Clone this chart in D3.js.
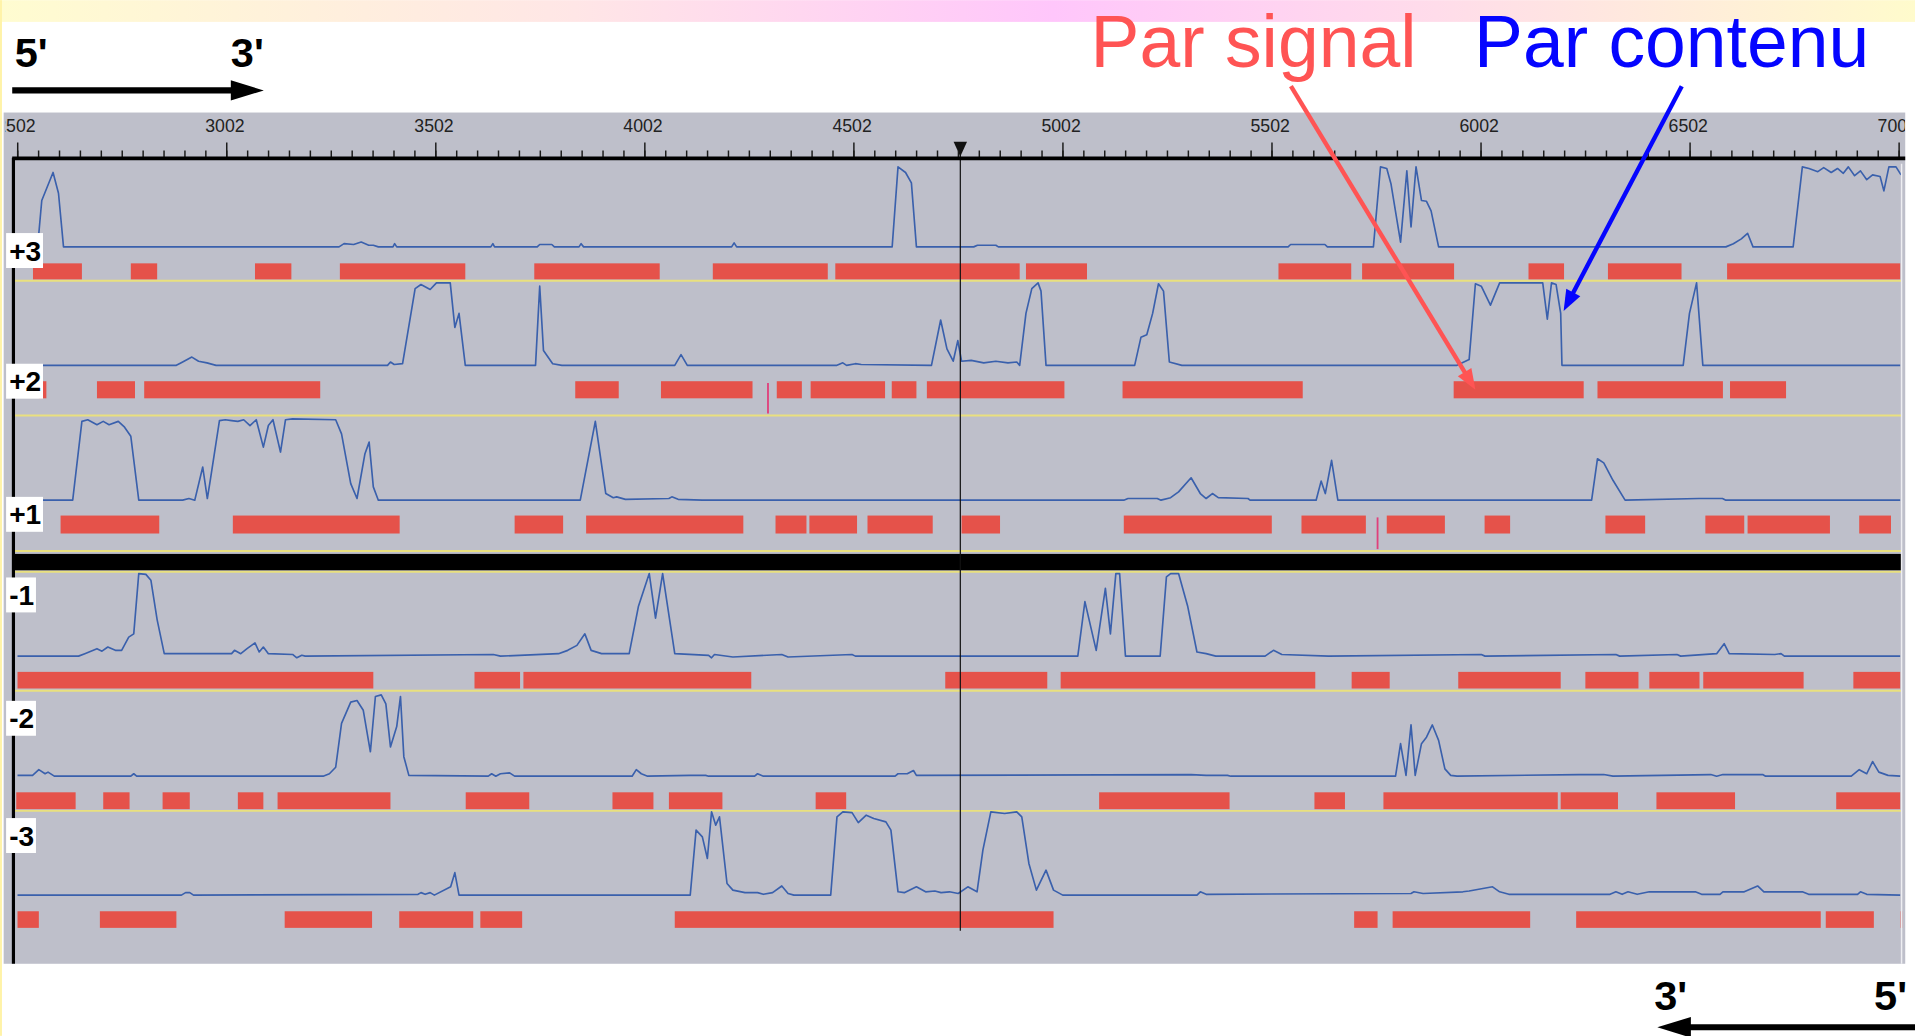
<!DOCTYPE html>
<html>
<head>
<meta charset="utf-8">
<script src="https://cdn.jsdelivr.net/npm/d3@7"></script>
<style>
html, body { margin: 0; padding: 0; background: #fff; overflow: hidden; }
svg { display: block; }
</style>
</head>
<body>
<script>
"use strict";

// cadres de lecture, de haut en bas
var cadres = ["+3", "+2", "+1", "-1", "-2", "-3"];

// graduations de la règle (pb)
var graduations = [2502, 3002, 3502, 4002, 4502, 5002, 5502, 6002, 6502, 7002];
var pasMineur = 50;
var curseur = 4758;

// profils : [position (pb), potentiel codant 0..1]
var profilP3 = [[2554,0.17],[2561,0.58],[2588,0.93],[2601,0.67],[2613,0],[3272,0],[3284,0.04],[3307,0.03],[3325,0.06],[3343,0.02],[3354,0.02],[3366,0],[3401,0],[3405,0.04],[3410,0],[3635,0],[3640,0.04],[3644,0],[3746,0],[3752,0.03],[3781,0.03],[3787,0],[3846,0],[3851,0.04],[3857,0],[4211,0],[4217,0.05],[4223,0],[4595,0],[4609,1],[4627,0.93],[4641,0.8],[4653,0],[4790,0],[4799,0.02],[4843,0.02],[4849,0],[5542,0],[5548,0.03],[5630,0.03],[5636,0],[5746,0],[5763,1],[5778,0.98],[5788,0.79],[5811,0.06],[5826,0.95],[5836,0.25],[5848,1],[5861,0.58],[5873,0.57],[5884,0.45],[5902,0],[6589,0],[6607,0.04],[6626,0.1],[6641,0.17],[6654,0],[6750,0],[6772,1],[6788,0.98],[6809,0.94],[6823,0.99],[6841,0.93],[6856,0.98],[6870,0.92],[6882,1],[6897,0.89],[6911,0.95],[6926,0.84],[6940,0.9],[6958,0.88],[6967,0.7],[6979,1],[6996,1],[7008,0.9]];
var profilP2 = [[2554,0],[2883,0],[2898,0.04],[2920,0.1],[2936,0.05],[2956,0.03],[2978,0],[3388,0],[3395,0.04],[3404,0.01],[3424,0.02],[3454,0.93],[3468,0.98],[3490,0.92],[3505,1],[3538,1],[3549,0.46],[3559,0.63],[3574,0],[3742,0],[3752,0.96],[3761,0.18],[3783,0.02],[3805,0],[4075,0],[4090,0.13],[4105,0],[4463,0],[4477,0.03],[4486,0],[4507,0.02],[4521,0.01],[4689,0],[4711,0.55],[4726,0.2],[4741,0.05],[4752,0.3],[4761,0.05],[4784,0.06],[4814,0.03],[4843,0.05],[4872,0.03],[4893,0.04],[4900,0],[4915,0.63],[4929,0.93],[4944,1],[4951,0.9],[4963,0],[5175,0],[5190,0.34],[5204,0.37],[5218,0.63],[5232,0.99],[5244,0.9],[5258,0.04],[5288,0],[5946,0],[5975,0.07],[5990,0.99],[6004,0.96],[6026,0.73],[6048,1],[6151,1],[6162,0.56],[6172,1],[6183,0.98],[6194,0.63],[6197,0],[6487,0],[6502,0.63],[6519,1],[6534,0],[7006,0]];
var profilP1 = [[2561,0],[2635,0],[2657,0.95],[2671,0.97],[2693,0.91],[2708,0.95],[2722,0.91],[2744,0.95],[2759,0.88],[2774,0.77],[2793,0],[2898,0],[2913,0.02],[2927,0],[2946,0.4],[2957,0.02],[2964,0.24],[2986,0.96],[3000,0.97],[3015,0.96],[3030,0.95],[3044,0.97],[3059,0.9],[3074,0.97],[3091,0.64],[3103,0.9],[3114,0.97],[3132,0.58],[3144,0.97],[3161,0.98],[3264,0.97],[3278,0.8],[3300,0.2],[3315,0.02],[3334,0.56],[3344,0.7],[3354,0.16],[3366,0],[3849,0],[3885,0.95],[3910,0.08],[3928,0.03],[3936,0.04],[3957,0.01],[4061,0.02],[4068,0.04],[4083,0.01],[4141,0],[5149,0],[5159,0.02],[5229,0.02],[5238,0],[5261,0.03],[5280,0.1],[5310,0.27],[5332,0.08],[5346,0.02],[5361,0.08],[5375,0.03],[5446,0.02],[5451,0],[5609,0],[5621,0.23],[5631,0.08],[5646,0.48],[5661,0],[6268,0],[6282,0.5],[6297,0.45],[6319,0.24],[6348,0],[6525,0.02],[6581,0.02],[6589,0],[7006,0]];
var profilM1 = [[2503,0],[2649,0],[2664,0.03],[2693,0.09],[2705,0.06],[2719,0.11],[2737,0.07],[2752,0.07],[2769,0.23],[2781,0.27],[2793,1],[2810,0.99],[2822,0.92],[2837,0.44],[2854,0.03],[3015,0.03],[3022,0.07],[3037,0.03],[3052,0.09],[3071,0.16],[3081,0.05],[3091,0.11],[3103,0.03],[3161,0.02],[3171,-0.02],[3183,0.01],[3191,0],[3641,0.02],[3658,0],[3797,0.03],[3819,0.07],[3841,0.13],[3860,0.27],[3875,0.07],[3900,0.03],[3966,0.03],[3988,0.6],[4014,1],[4029,0.46],[4046,1],[4075,0.03],[4156,0.01],[4163,-0.02],[4170,0.02],[4214,-0.01],[4331,0.02],[4346,-0.01],[4499,0.02],[4507,0],[5039,0],[5056,0.66],[5083,0.07],[5105,0.82],[5117,0.27],[5130,1],[5139,1],[5153,0],[5236,0],[5251,0.96],[5261,1],[5280,1],[5302,0.6],[5324,0.05],[5346,0.03],[5369,0],[5487,0],[5507,0.07],[5527,0.02],[5639,0],[6004,0.02],[6013,0],[6326,0.02],[6335,0],[6472,0.02],[6481,0],[6567,0.03],[6585,0.15],[6597,0.03],[6706,0.02],[6721,0.03],[6729,0],[7006,0]];
var profilM2 = [[2503,0.01],[2539,0.01],[2554,0.08],[2569,0.03],[2576,0.05],[2591,0],[2774,0],[2781,0.03],[2788,0],[3234,0],[3249,0.03],[3264,0.11],[3278,0.65],[3300,0.91],[3315,0.93],[3330,0.81],[3347,0.3],[3359,0.98],[3373,1],[3384,0.89],[3395,0.36],[3410,0.61],[3419,0.98],[3427,0.24],[3439,0.01],[3629,0],[3637,0.03],[3647,0],[3658,0.03],[3680,0.04],[3692,0],[3973,0],[3983,0.08],[3995,0.03],[4010,0],[4112,0.01],[4149,0.01],[4156,0],[4266,0],[4273,0.03],[4287,0],[4602,0],[4609,0.03],[4631,0.03],[4646,0.07],[4653,0.01],[5310,0.02],[5346,0.01],[5397,0.01],[5405,0],[5799,0],[5811,0.4],[5824,0.01],[5836,0.63],[5846,0.01],[5861,0.4],[5873,0.48],[5887,0.63],[5902,0.44],[5917,0.09],[5931,0.01],[5946,0],[6238,0.02],[6297,0.02],[6319,0],[6553,0.02],[6567,0],[6582,0.02],[6677,0.02],[6684,0],[6889,0],[6908,0.08],[6926,0.03],[6940,0.18],[6955,0.05],[6977,0.01],[7006,0]];
var profilM3 = [[2503,0],[2895,0],[2905,0.03],[2915,0.03],[2924,0],[3461,0.01],[3468,0.03],[3478,0.01],[3490,0.03],[3500,0],[3539,0.1],[3549,0.27],[3559,0],[4112,0],[4126,0.78],[4141,0.7],[4153,0.44],[4163,1],[4173,0.84],[4182,0.94],[4200,0.14],[4214,0.06],[4243,0.03],[4273,0.03],[4287,0.01],[4309,0.03],[4331,0.11],[4346,0.02],[4360,0],[4448,0],[4463,0.94],[4477,1],[4499,0.99],[4514,0.87],[4533,0.96],[4551,0.92],[4580,0.88],[4592,0.78],[4609,0.04],[4624,0.03],[4653,0.1],[4675,0.04],[4697,0.05],[4712,0.03],[4732,0.04],[4753,0.02],[4776,0.1],[4798,0.04],[4812,0.54],[4831,1],[4864,0.98],[4893,1],[4905,0.94],[4922,0.38],[4940,0.06],[4963,0.3],[4981,0.06],[5003,0],[5324,0],[5332,0.04],[5346,0.01],[5836,0.02],[5843,0.04],[5865,0.02],[5960,0.04],[5975,0.05],[6031,0.1],[6048,0.04],[6070,0.01],[6312,0.01],[6326,0.04],[6341,0.01],[6355,0.04],[6377,0.01],[6406,0.04],[6516,0.04],[6531,0.01],[6575,0.01],[6582,0.04],[6633,0.04],[6665,0.11],[6680,0.04],[6772,0.04],[6787,0.01],[6904,0.01],[6911,0.04],[6926,0.01],[7006,0]];

// phases ouvertes (début, fin en pb)
var orfP3 = [[2540,2657],[2774,2837],[3071,3158],[3274,3574],[3739,4039],[4166,4441],[4459,4900],[4915,5061],[5519,5693],[5719,5939],[6117,6202],[6307,6483],[6592,7006]];
var orfP2 = [[2554,2572],[2693,2784],[2806,3227],[3837,3941],[4042,4261],[4319,4379],[4400,4578],[4594,4653],[4678,5007],[5146,5577],[5938,6249],[6282,6582],[6599,6733]];
var orfP1 = [[2606,2842],[3018,3417],[3692,3808],[3863,4239],[4316,4390],[4397,4511],[4536,4692],[4761,4853],[5149,5503],[5574,5728],[5778,5917],[6012,6073],[6301,6396],[6540,6633],[6641,6838],[6908,6984]];
var orfM1 = [[2503,3354],[3596,3705],[3713,4258],[4722,4966],[4998,5607],[5694,5785],[5949,6194],[6253,6380],[6406,6526],[6535,6775],[6894,7006]];
var orfM2 = [[2500,2642],[2708,2771],[2850,2915],[3030,3091],[3125,3395],[3575,3727],[3926,4024],[4061,4189],[4412,4485],[5090,5402],[5605,5678],[5770,6187],[6194,6331],[6423,6611],[6853,7006]];
var orfM3 = [[2503,2554],[2700,2883],[3142,3351],[3416,3593],[3610,3710],[4075,4981],[5700,5756],[5792,6121],[6231,6816],[6828,6943],[7007,7016]];

// petits signaux isolés : [cadre, position]
var signaux = [["+2", 4298], ["+1", 5756]];

var profils = { "+3": profilP3, "+2": profilP2, "+1": profilP1, "-1": profilM1, "-2": profilM2, "-3": profilM3 };
var orfs = { "+3": orfP3, "+2": orfP2, "+1": orfP1, "-1": orfM1, "-2": orfM2, "-3": orfM3 };

// mise en page des pistes (repère 1568 x 848)
var pistes = {
	"+3": { haut: 136.5, base: 202, bH: 215.5, bB: 228.6, sep: 229.8, etiq: 205 },
	"+2": { haut: 231.5, base: 299, bH: 312, bB: 326, sep: 340, etiq: 312 },
	"+1": { haut: 341.5, base: 409.4, bH: 422, bB: 436.7, sep: 451, etiq: 421 },
	"-1": { haut: 469.5, base: 537.1, bH: 550, bB: 563.6, sep: 565.5, etiq: 487 },
	"-2": { haut: 568.8, base: 635.4, bH: 648.6, bB: 662.4, sep: 663.8, etiq: 588 },
	"-3": { haut: 664.6, base: 732.8, bH: 746, bB: 759.6, sep: null, etiq: 684 }
};

var W = 1568, H = 848;
var police = "'Liberation Sans', Arial, Helvetica, sans-serif";

var svg = d3.select("body").append("svg")
	.attr("width", 1915).attr("height", 1036)
	.attr("viewBox", "0 0 " + W + " " + H);

var defs = svg.append("defs");
var grad = defs.append("linearGradient").attr("id", "bandeau");
[[0, "#fffcd0"], [0.3, "#ffe6e6"], [0.55, "#ffc6fb"], [0.75, "#ffdcea"], [1, "#fffbcc"]]
	.forEach(s => grad.append("stop").attr("offset", s[0]).attr("stop-color", s[1]));
defs.append("clipPath").attr("id", "cadre")
	.append("rect").attr("x", 4).attr("y", 85).attr("width", 1553.5).attr("height", 710);
defs.append("clipPath").attr("id", "cadreRegle")
	.append("rect").attr("x", 4.2).attr("y", 85).attr("width", 1555.6).attr("height", 60);

svg.append("rect").attr("width", W).attr("height", H).attr("fill", "#fff");
svg.append("rect").attr("width", W).attr("height", 17.8).attr("fill", "url(#bandeau)");
svg.append("rect").attr("x", 0).attr("y", 0).attr("width", 1.6).attr("height", H).attr("fill", "#fff3a8");

// fond gris
svg.append("rect").attr("x", 3).attr("y", 92).attr("width", 1557).attr("height", 697).attr("fill", "#bebfca");

var x = d3.scaleLinear().domain([2502, 7002]).range([14, 1554.5]);

var plan = svg.append("g").attr("clip-path", "url(#cadre)");

// séparateurs jaunes
var separations = cadres.filter(c => pistes[c].sep !== null).map(c => pistes[c].sep).concat([468]);
plan.selectAll(".sep").data(separations).enter().append("line")
	.attr("x1", 12).attr("x2", 1557).attr("y1", d => d).attr("y2", d => d)
	.attr("stroke", "#e9e07e").attr("stroke-width", 1.6);

// bande noire entre brins
plan.append("rect").attr("x", 12).attr("y", 453.4).attr("width", 1545).attr("height", 13.4).attr("fill", "#000");

cadres.forEach(function (c) {
	var p = pistes[c];
	var y = d3.scaleLinear().domain([0, 1]).range([p.base, p.haut]);
	var g = plan.append("g").attr("class", "piste");
	g.selectAll("rect").data(orfs[c]).enter().append("rect")
		.attr("x", d => x(d[0]))
		.attr("width", d => x(d[1]) - x(d[0]))
		.attr("y", p.bH).attr("height", p.bB - p.bH)
		.attr("fill", "#e5524a");
	g.append("path").datum(profils[c])
		.attr("d", d3.line().x(d => x(d[0])).y(d => y(d[1])))
		.attr("fill", "none").attr("stroke", "#3a60ac").attr("stroke-width", 1.35)
		.attr("stroke-linejoin", "round");
});

plan.selectAll(".signal").data(signaux).enter().append("line")
	.attr("x1", d => x(d[1])).attr("x2", d => x(d[1]))
	.attr("y1", d => pistes[d[0]].bH + 1.5).attr("y2", d => pistes[d[0]].sep - 1.5)
	.attr("stroke", "#e0407c").attr("stroke-width", 1.5);

// bord droit clair
svg.append("line").attr("x1", 1557).attr("x2", 1557).attr("y1", 134).attr("y2", 789)
	.attr("stroke", "#eeeef2").attr("stroke-width", 1.2);

// curseur
svg.append("line").attr("x1", x(curseur)).attr("x2", x(curseur)).attr("y1", 124).attr("y2", 762)
	.attr("stroke", "#111").attr("stroke-width", 1);
svg.append("path")
	.attr("d", "M" + (x(curseur) - 5.5) + ",116L" + (x(curseur) + 5.5) + ",116L" + x(curseur) + ",128Z")
	.attr("fill", "#111");

// règle
var regle = svg.append("g").attr("clip-path", "url(#cadreRegle)");
var gRegle = regle.append("g").attr("transform", "translate(0,129.6)");
gRegle.call(d3.axisTop(x).tickValues(d3.range(2502, 7003, pasMineur)).tickSize(6.5).tickSizeOuter(0).tickFormat(""));
gRegle.append("g").call(d3.axisTop(x).tickValues(graduations).tickSize(13).tickSizeOuter(0)
	.tickPadding(9).tickFormat(d3.format("d")));
gRegle.selectAll(".domain").remove();
gRegle.selectAll(".tick line").attr("stroke", "#1a1a1a").attr("stroke-width", 1.2);
gRegle.selectAll(".tick text").attr("fill", "#222").attr("font-size", 14.5)
	.attr("font-family", police).attr("dx", -1.5);
svg.append("line").attr("x1", 10).attr("x2", 1560).attr("y1", 129.6).attr("y2", 129.6)
	.attr("stroke", "#000").attr("stroke-width", 3);
svg.append("line").attr("x1", 11).attr("x2", 11).attr("y1", 129).attr("y2", 789)
	.attr("stroke", "#000").attr("stroke-width", 2.6);

// étiquettes des cadres
cadres.forEach(function (c) {
	var t = svg.append("text").attr("x", 7.5).attr("y", pistes[c].etiq + 8.2)
		.attr("font-family", police).attr("font-weight", "bold").attr("font-size", 23)
		.attr("fill", "#000").text(c);
	var bb = t.node().getBBox();
	svg.insert("rect", function () { return t.node(); })
		.attr("x", 5).attr("y", pistes[c].etiq - 14.3)
		.attr("width", bb.x + bb.width + 1.5 - 5).attr("height", 28.6).attr("fill", "#fff");
});

// orientation des brins
function fleche(x1, x2, y, tip, base, demi) {
	svg.append("line").attr("x1", x1).attr("x2", x2).attr("y1", y).attr("y2", y)
		.attr("stroke", "#000").attr("stroke-width", 5);
	svg.append("path").attr("d", "M" + base + "," + (y - demi) + "L" + tip + "," + y + "L" + base + "," + (y + demi) + "Z")
		.attr("fill", "#000");
}
fleche(10, 192, 73.9, 216, 189, 8.3);
fleche(1568, 1382, 841, 1357, 1384.5, 8.5);

var brins = [["5'", 12, 54.6], ["3'", 189, 54.6], ["3'", 1354.5, 827], ["5'", 1534.5, 827]];
svg.selectAll(".brin").data(brins).enter().append("text")
	.attr("x", d => d[1]).attr("y", d => d[2])
	.attr("font-family", police).attr("font-weight", "bold").attr("font-size", 34)
	.attr("fill", "#000").text(d => d[0]);

// annotations
function annoter(texte, couleur, tx, fx, fy, cadre, pos, val) {
	svg.append("text").attr("x", tx).attr("y", 54.6)
		.attr("font-family", police).attr("font-size", 60).attr("fill", couleur).text(texte);
	var p = pistes[cadre];
	var px = x(pos), py = val === null ? (p.bH + p.bB) / 2 : p.base - val * (p.base - p.haut);
	var dx = px - fx, dy = py - fy, l = Math.sqrt(dx * dx + dy * dy), ux = dx / l, uy = dy / l;
	var L = 17, D = 6.5;
	var bx = px - ux * L, by = py - uy * L;
	svg.append("line").attr("x1", fx).attr("y1", fy).attr("x2", bx + ux * 2).attr("y2", by + uy * 2)
		.attr("stroke", couleur).attr("stroke-width", 3.6);
	svg.append("path").attr("d", "M" + px + "," + py + "L" + (bx - uy * D) + "," + (by + ux * D) +
		"L" + (bx + uy * D) + "," + (by - ux * D) + "Z").attr("fill", couleur);
}
annoter("Par signal", "#ff5454", 893, 1057, 70.4, "+2", 5990, null);
annoter("Par contenu", "#0505ff", 1207, 1377, 70.4, "+2", 6201, 0.66);
</script>
</body>
</html>
